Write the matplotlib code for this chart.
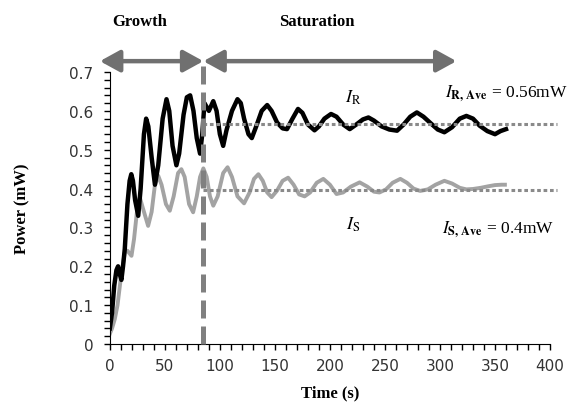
import matplotlib
matplotlib.use("Agg")
import matplotlib.pyplot as plt
from matplotlib.ticker import MultipleLocator, FuncFormatter

# time (s) and power (mW)
t_r = [0, 2, 4, 6, 7.5, 9, 10.5, 12, 13.6, 16, 18, 19.5, 21, 23, 25.8, 28, 31, 33, 35, 38,
       41, 44, 48, 51.5, 54, 57, 60.5, 63, 67, 70, 73, 76, 79, 82, 84, 86, 90, 94, 97, 100,
       103, 106, 111, 116, 119, 122, 126, 129, 133, 138, 143, 147, 152, 157, 161, 166, 171,
       175, 180, 186, 190, 195, 201, 206, 212, 218, 224, 230, 235, 240, 247, 254, 261, 267,
       273, 279, 285, 292, 298, 304, 311, 318, 324, 330, 336, 343, 350, 355, 360]
p_r = [0.04, 0.08, 0.15, 0.19, 0.20, 0.18, 0.165, 0.20, 0.245, 0.36, 0.42, 0.437, 0.42, 0.37,
       0.33, 0.40, 0.54, 0.58, 0.56, 0.48, 0.41, 0.46, 0.58, 0.63, 0.60, 0.51, 0.46, 0.49,
       0.59, 0.635, 0.64, 0.60, 0.53, 0.49, 0.54, 0.62, 0.60, 0.625, 0.60, 0.54, 0.51, 0.55,
       0.60, 0.63, 0.62, 0.58, 0.54, 0.53, 0.56, 0.60, 0.615, 0.60, 0.57, 0.555, 0.553, 0.58,
       0.605, 0.595, 0.565, 0.55, 0.56, 0.58, 0.592, 0.585, 0.565, 0.553, 0.565, 0.578,
       0.583, 0.575, 0.56, 0.552, 0.549, 0.565, 0.585, 0.596, 0.585, 0.567, 0.552, 0.545,
       0.558, 0.58, 0.587, 0.58, 0.562, 0.548, 0.54, 0.548, 0.553]

t_s = [0, 2, 4.5, 7, 10, 13.6, 16, 19.7, 22, 25, 27.3, 30, 34.8, 38, 41, 44, 47, 51, 54.5,
       58, 62, 65, 68, 72, 75.7, 79, 82, 85, 88, 91, 94, 98, 103, 107, 111, 116, 122, 127,
       131, 135, 139, 143, 147, 152, 157, 162, 167, 172, 177, 182, 188, 194, 200, 206, 212,
       219, 227, 234, 240, 245, 251, 257, 264, 270, 276, 282, 289, 296, 304, 311, 318, 324,
       330, 337, 344, 350, 356, 359]
p_s = [0.026, 0.04, 0.064, 0.10, 0.17, 0.236, 0.24, 0.227, 0.27, 0.35, 0.377, 0.35, 0.304,
       0.34, 0.41, 0.433, 0.41, 0.36, 0.343, 0.38, 0.44, 0.45, 0.43, 0.36, 0.339, 0.38, 0.43,
       0.452, 0.43, 0.38, 0.356, 0.38, 0.44, 0.455, 0.43, 0.38, 0.362, 0.39, 0.425, 0.437,
       0.42, 0.39, 0.378, 0.395, 0.42, 0.428, 0.41, 0.385, 0.38, 0.39, 0.415, 0.425, 0.41,
       0.386, 0.39, 0.405, 0.416, 0.405, 0.392, 0.39, 0.398, 0.415, 0.425, 0.415, 0.4, 0.394,
       0.398, 0.41, 0.42, 0.413, 0.402, 0.398, 0.399, 0.402, 0.406, 0.409, 0.41, 0.41]

ave_r = 0.565
ave_s = 0.397
ave_span = [85, 406]
t_boundary = 85
arrow_y = 0.728
growth_span = [-9, 85]
saturation_span = [85, 315]

plt.rcParams['font.family'] = ['DejaVu Sans']
plt.rcParams['mathtext.fontset'] = 'stix'
serif = ['Liberation Serif', 'DejaVu Serif']

fig = plt.figure(figsize=(5.78, 4.10), dpi=100)
ax = fig.add_axes([0.19, 0.1585, 0.7616, 0.6634])

ax.plot(t_s, p_s, color='#a3a3a3', lw=2.8, zorder=2)
ax.plot(t_r, p_r, color='black', lw=3.2, zorder=3)
ax.plot(ave_span, [ave_r, ave_r], color='#8a8a8a', lw=2.2, dashes=(1.2, 0.9),
        zorder=4, clip_on=False)
ax.plot(ave_span, [ave_s, ave_s], color='#8a8a8a', lw=2.2, dashes=(1.2, 0.9),
        zorder=4, clip_on=False)
ax.plot([t_boundary, t_boundary], [0, arrow_y], color='#808080', lw=3.6,
        dashes=(3.6, 1.6), zorder=5, clip_on=False)

for span in (growth_span, saturation_span):
    ax.annotate('', xy=(span[0], arrow_y), xytext=(span[1], arrow_y),
                xycoords='data', annotation_clip=False,
                arrowprops=dict(arrowstyle='<|-|>,head_length=1.0,head_width=0.55',
                                color='#707070', lw=3.2, shrinkA=0, shrinkB=0,
                                mutation_scale=12))

ax.text(27, 0.832, 'Growth', family=serif, weight='bold', fontsize=12,
        ha='center', va='center')
ax.text(188, 0.832, 'Saturation', family=serif, weight='bold', fontsize=12,
        ha='center', va='center')

ax.text(221, 0.635, r'$I_{\mathrm{R}}$', fontsize=13, ha='center', va='center')
ax.text(221, 0.309, r'$I_{\mathrm{S}}$', fontsize=13, ha='center', va='center')
ax.text(305, 0.648, r'$I_{\mathbf{R,\,Ave}}$' + ' = 0.56mW', family=serif,
        fontsize=12.5, ha='left', va='center')
ax.text(302, 0.296, r'$I_{\mathbf{S,\,Ave}}$' + ' = 0.4mW', family=serif,
        fontsize=12.5, ha='left', va='center')

ax.set_xlim(0, 400)
ax.set_ylim(0, 0.7)
ax.xaxis.set_major_locator(MultipleLocator(50))
ax.xaxis.set_minor_locator(MultipleLocator(10))
ax.yaxis.set_major_locator(MultipleLocator(0.1))
ax.yaxis.set_minor_locator(MultipleLocator(0.02))
ax.yaxis.set_major_formatter(FuncFormatter(lambda v, pos: '0' if abs(v) < 1e-9 else '%.1f' % v))
ax.tick_params(which='both', direction='out', length=4, width=1, colors='black',
               labelsize=11, labelcolor='#333333')
ax.tick_params(axis='x', pad=6)
ax.tick_params(axis='y', pad=8)
for side in ('top', 'right'):
    ax.spines[side].set_visible(False)

ax.set_xlabel('Time (s)', family=serif, weight='bold', fontsize=12, labelpad=8)
ax.set_ylabel('Power (mW)', family=serif, weight='bold', fontsize=12, labelpad=28)

fig.savefig('out.png', dpi=100)
